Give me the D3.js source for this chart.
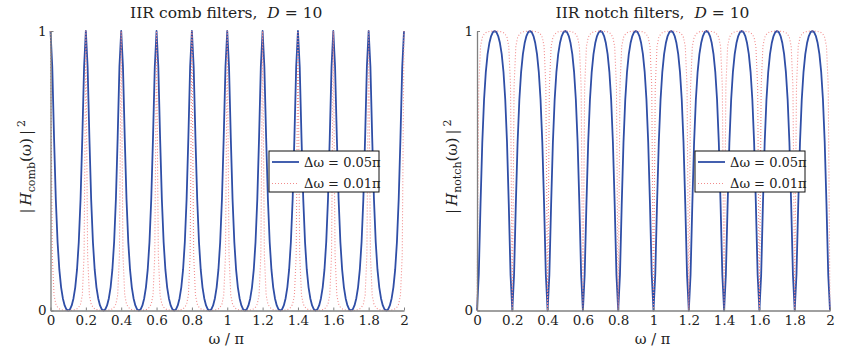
<!DOCTYPE html>
<html>
<head>
<meta charset="utf-8">
<script src="https://cdn.jsdelivr.net/npm/d3@7"></script>
<style>
  body { margin: 0; background: #fff; }
  svg { display: block; }
  text { font-family: "DejaVu Serif", "Liberation Serif", serif; fill: #222; }
</style>
</head>
<body>
<svg id="fig" width="848" height="350"></svg>
<script>
// Frequency grid, ω/π from 0 to 2 in steps of 0.01
const omegaOverPi = d3.range(201).map(i => i / 100);

const xTicks = [0, 0.2, 0.4, 0.6, 0.8, 1, 1.2, 1.4, 1.6, 1.8, 2];
const yTicks = [0, 1];
const seriesLabels = ["Δω = 0.05π", "Δω = 0.01π"];

// |H_comb(ω)|², Δω = 0.05π (one line per 0.2 period)
const combWide = [
  1, .872, .619, .398, .245, .146, .083, .043, .018, .004, 0, .004, .018, .043, .083, .146, .245, .398, .619, .872,
  1, .872, .619, .398, .245, .146, .083, .043, .018, .004, 0, .004, .018, .043, .083, .146, .245, .398, .619, .872,
  1, .872, .619, .398, .245, .146, .083, .043, .018, .004, 0, .004, .018, .043, .083, .146, .245, .398, .619, .872,
  1, .872, .619, .398, .245, .146, .083, .043, .018, .004, 0, .004, .018, .043, .083, .146, .245, .398, .619, .872,
  1, .872, .619, .398, .245, .146, .083, .043, .018, .004, 0, .004, .018, .043, .083, .146, .245, .398, .619, .872,
  1, .872, .619, .398, .245, .146, .083, .043, .018, .004, 0, .004, .018, .043, .083, .146, .245, .398, .619, .872,
  1, .872, .619, .398, .245, .146, .083, .043, .018, .004, 0, .004, .018, .043, .083, .146, .245, .398, .619, .872,
  1, .872, .619, .398, .245, .146, .083, .043, .018, .004, 0, .004, .018, .043, .083, .146, .245, .398, .619, .872,
  1, .872, .619, .398, .245, .146, .083, .043, .018, .004, 0, .004, .018, .043, .083, .146, .245, .398, .619, .872,
  1, .872, .619, .398, .245, .146, .083, .043, .018, .004, 0, .004, .018, .043, .083, .146, .245, .398, .619, .872,
  1
];

// |H_comb(ω)|², Δω = 0.01π
const combNarrow = [
  1, .198, .055, .023, .012, .006, .003, .002, .001, 0, 0, 0, .001, .002, .003, .006, .012, .023, .055, .198,
  1, .198, .055, .023, .012, .006, .003, .002, .001, 0, 0, 0, .001, .002, .003, .006, .012, .023, .055, .198,
  1, .198, .055, .023, .012, .006, .003, .002, .001, 0, 0, 0, .001, .002, .003, .006, .012, .023, .055, .198,
  1, .198, .055, .023, .012, .006, .003, .002, .001, 0, 0, 0, .001, .002, .003, .006, .012, .023, .055, .198,
  1, .198, .055, .023, .012, .006, .003, .002, .001, 0, 0, 0, .001, .002, .003, .006, .012, .023, .055, .198,
  1, .198, .055, .023, .012, .006, .003, .002, .001, 0, 0, 0, .001, .002, .003, .006, .012, .023, .055, .198,
  1, .198, .055, .023, .012, .006, .003, .002, .001, 0, 0, 0, .001, .002, .003, .006, .012, .023, .055, .198,
  1, .198, .055, .023, .012, .006, .003, .002, .001, 0, 0, 0, .001, .002, .003, .006, .012, .023, .055, .198,
  1, .198, .055, .023, .012, .006, .003, .002, .001, 0, 0, 0, .001, .002, .003, .006, .012, .023, .055, .198,
  1, .198, .055, .023, .012, .006, .003, .002, .001, 0, 0, 0, .001, .002, .003, .006, .012, .023, .055, .198,
  1
];

// |H_notch(ω)|², Δω = 0.05π
const notchWide = [
  0, .128, .381, .602, .755, .854, .917, .957, .982, .996, 1, .996, .982, .957, .917, .854, .755, .602, .381, .128,
  0, .128, .381, .602, .755, .854, .917, .957, .982, .996, 1, .996, .982, .957, .917, .854, .755, .602, .381, .128,
  0, .128, .381, .602, .755, .854, .917, .957, .982, .996, 1, .996, .982, .957, .917, .854, .755, .602, .381, .128,
  0, .128, .381, .602, .755, .854, .917, .957, .982, .996, 1, .996, .982, .957, .917, .854, .755, .602, .381, .128,
  0, .128, .381, .602, .755, .854, .917, .957, .982, .996, 1, .996, .982, .957, .917, .854, .755, .602, .381, .128,
  0, .128, .381, .602, .755, .854, .917, .957, .982, .996, 1, .996, .982, .957, .917, .854, .755, .602, .381, .128,
  0, .128, .381, .602, .755, .854, .917, .957, .982, .996, 1, .996, .982, .957, .917, .854, .755, .602, .381, .128,
  0, .128, .381, .602, .755, .854, .917, .957, .982, .996, 1, .996, .982, .957, .917, .854, .755, .602, .381, .128,
  0, .128, .381, .602, .755, .854, .917, .957, .982, .996, 1, .996, .982, .957, .917, .854, .755, .602, .381, .128,
  0, .128, .381, .602, .755, .854, .917, .957, .982, .996, 1, .996, .982, .957, .917, .854, .755, .602, .381, .128,
  0
];

// |H_notch(ω)|², Δω = 0.01π
const notchNarrow = [
  0, .802, .945, .977, .988, .994, .997, .998, .999, 1, 1, 1, .999, .998, .997, .994, .988, .977, .945, .802,
  0, .802, .945, .977, .988, .994, .997, .998, .999, 1, 1, 1, .999, .998, .997, .994, .988, .977, .945, .802,
  0, .802, .945, .977, .988, .994, .997, .998, .999, 1, 1, 1, .999, .998, .997, .994, .988, .977, .945, .802,
  0, .802, .945, .977, .988, .994, .997, .998, .999, 1, 1, 1, .999, .998, .997, .994, .988, .977, .945, .802,
  0, .802, .945, .977, .988, .994, .997, .998, .999, 1, 1, 1, .999, .998, .997, .994, .988, .977, .945, .802,
  0, .802, .945, .977, .988, .994, .997, .998, .999, 1, 1, 1, .999, .998, .997, .994, .988, .977, .945, .802,
  0, .802, .945, .977, .988, .994, .997, .998, .999, 1, 1, 1, .999, .998, .997, .994, .988, .977, .945, .802,
  0, .802, .945, .977, .988, .994, .997, .998, .999, 1, 1, 1, .999, .998, .997, .994, .988, .977, .945, .802,
  0, .802, .945, .977, .988, .994, .997, .998, .999, 1, 1, 1, .999, .998, .997, .994, .988, .977, .945, .802,
  0, .802, .945, .977, .988, .994, .997, .998, .999, 1, 1, 1, .999, .998, .997, .994, .988, .977, .945, .802,
  0
];

const svg = d3.select("#fig");

const lineStyles = [
  { stroke: "#2f4ea6", width: 1.8, dash: null },
  { stroke: "#f28c8c", width: 1.1, dash: "1,2" }
];

const panels = [
  { title: "IIR comb filters,", sub: "comb",  series: [combWide, combNarrow],  left: 50.5, right: 404, ylabelX: 31 },
  { title: "IIR notch filters,", sub: "notch", series: [notchWide, notchNarrow], left: 477, right: 830, ylabelX: 457 }
];

const plotTop = 31, plotBottom = 310.5;

panels.forEach(p => {
  const x = d3.scaleLinear().domain([0, 2]).range([p.left, p.right]);
  const y = d3.scaleLinear().domain([0, 1]).range([plotBottom, plotTop]);
  const g = svg.append("g");

  // response curves
  const line = d3.line()
    .x((d, i) => x(omegaOverPi[i]))
    .y(d => y(d));
  p.series.forEach((s, k) => {
    const st = lineStyles[k];
    g.append("path")
      .datum(s)
      .attr("d", line)
      .attr("fill", "none")
      .attr("stroke", st.stroke)
      .attr("stroke-width", st.width)
      .attr("stroke-dasharray", st.dash)
      .attr("stroke-linejoin", "round");
  });

  // axes (left and bottom only, ticks pointing inward)
  const xAxis = g.append("g")
    .attr("transform", `translate(0,${plotBottom})`)
    .call(d3.axisBottom(x).tickValues(xTicks).tickSize(-3).tickSizeOuter(0).tickPadding(5)
      .tickFormat(d => String(+d.toFixed(1))));
  const yAxis = g.append("g")
    .attr("transform", `translate(${p.left},0)`)
    .call(d3.axisLeft(y).tickValues(yTicks).tickSize(-3).tickSizeOuter(0).tickPadding(4)
      .tickFormat(d3.format("d")));
  [xAxis, yAxis].forEach(a => {
    a.select(".domain").attr("stroke", "#808080").attr("stroke-width", 1.3);
    a.selectAll(".tick line").attr("stroke", "#808080");
    a.selectAll(".tick text")
      .attr("font-family", "DejaVu Serif, serif")
      .attr("font-size", 13.5)
      .attr("fill", "#222");
  });

  const cx = (p.left + p.right) / 2;

  // title
  const t = svg.append("text")
    .attr("x", cx - 1).attr("y", 18)
    .attr("text-anchor", "middle")
    .attr("font-size", 15.5);
  t.append("tspan").text(p.title + "\u00a0\u00a0");
  t.append("tspan").attr("font-style", "italic").text("D");
  t.append("tspan").text(" = 10");

  // x label
  svg.append("text")
    .attr("x", cx - 1).attr("y", 344)
    .attr("text-anchor", "middle")
    .attr("font-size", 14.5)
    .text("ω / π");

  // y label
  const yl = svg.append("text")
    .attr("transform", `translate(${p.ylabelX},${(plotTop + plotBottom) / 2 - 4}) rotate(-90)`)
    .attr("text-anchor", "middle")
    .attr("font-size", 15);
  yl.append("tspan").text("|\u2009");
  yl.append("tspan").attr("font-style", "italic").text("H");
  yl.append("tspan").attr("font-size", 11).attr("dy", 4).text(p.sub);
  yl.append("tspan").attr("dy", -4).text("(ω)\u2009|\u2009");
  yl.append("tspan").attr("font-size", 11).attr("dy", -6).text("2");

  // legend
  const lgRight = p.right - 25, lgW = 110, lgTop = 151, lgH = 41;
  const lg = svg.append("g").attr("transform", `translate(${lgRight - lgW},${lgTop})`);
  lg.append("rect")
    .attr("width", lgW).attr("height", lgH)
    .attr("fill", "#fff").attr("stroke", "#111").attr("stroke-width", 1);
  seriesLabels.forEach((lab, k) => {
    const st = lineStyles[k];
    const ly = 11 + k * 21.5;
    lg.append("line")
      .attr("x1", 3).attr("x2", 30).attr("y1", ly).attr("y2", ly)
      .attr("stroke", st.stroke).attr("stroke-width", st.width)
      .attr("stroke-dasharray", st.dash);
    lg.append("text")
      .attr("x", 35).attr("y", ly + 4.5)
      .attr("font-size", 13)
      .text(lab);
  });
});
</script>
</body>
</html>
